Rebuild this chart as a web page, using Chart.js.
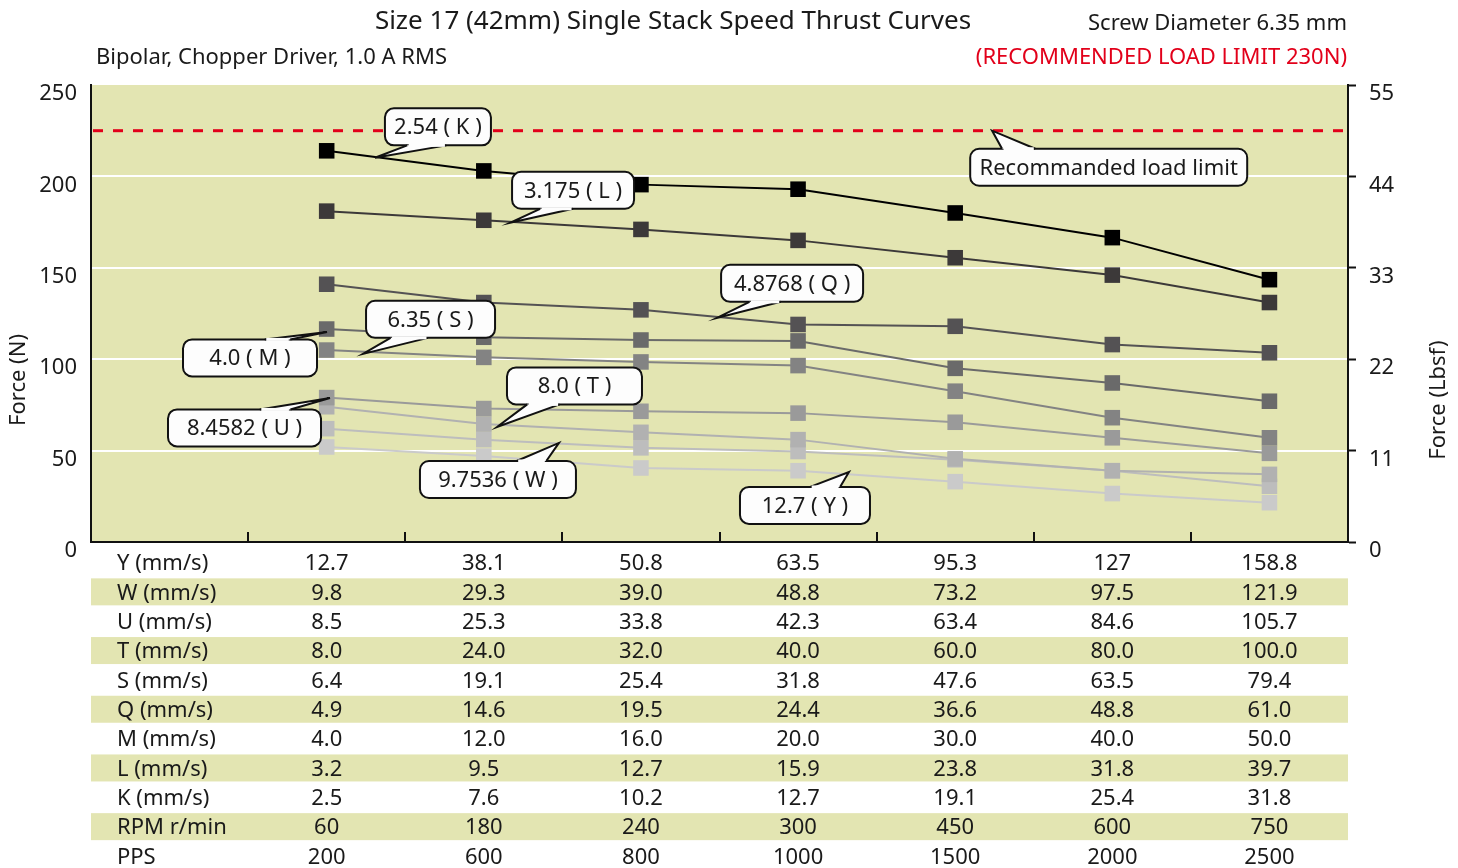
<!DOCTYPE html>
<html>
<head>
<meta charset="utf-8">
<script src="https://cdn.jsdelivr.net/npm/chart.js@4.4.1/dist/chart.umd.min.js"></script>
<style>
  body { margin: 0; background: #fff; }
  canvas { display: block; }
</style>
</head>
<body>
<canvas id="thrustChart" width="1458" height="868"></canvas>
<script>
// speed columns (first slot is the table label column)
const columns = ['', '12.7', '38.1', '50.8', '63.5', '95.3', '127', '158.8'];

// force (N) per lead
const forceK = [214, 203, 195.5, 193, 180, 166.5, 143.5];
const forceL = [181, 176, 171, 165, 155.5, 146, 131];
const forceQ = [141, 131, 127, 119, 118, 108, 103.5];
const forceM = [116.5, 112, 110.5, 110, 95, 87, 77];
const forceS = [105, 101, 98.5, 96.5, 82.5, 68, 57];
const forceU = [79, 73, 71.5, 70.5, 65.5, 57, 48.5];
const forceT = [74, 64.5, 60, 56, 45.5, 39, 37];
const forceW = [62, 56, 51.5, 49.5, 45, 39, 30.5];
const forceY = [52, 47, 40.5, 39, 33, 26.5, 21.5];

const loadLimit = 225;

// table under the chart
const rowLabels = ['Y (mm/s)', 'W (mm/s)', 'U (mm/s)', 'T (mm/s)', 'S (mm/s)', 'Q (mm/s)',
                   'M (mm/s)', 'L (mm/s)', 'K (mm/s)', 'RPM r/min', 'PPS'];
const speedY = ['12.7', '38.1', '50.8', '63.5', '95.3', '127', '158.8'];
const speedW = ['9.8', '29.3', '39.0', '48.8', '73.2', '97.5', '121.9'];
const speedU = ['8.5', '25.3', '33.8', '42.3', '63.4', '84.6', '105.7'];
const speedT = ['8.0', '24.0', '32.0', '40.0', '60.0', '80.0', '100.0'];
const speedS = ['6.4', '19.1', '25.4', '31.8', '47.6', '63.5', '79.4'];
const speedQ = ['4.9', '14.6', '19.5', '24.4', '36.6', '48.8', '61.0'];
const speedM = ['4.0', '12.0', '16.0', '20.0', '30.0', '40.0', '50.0'];
const speedL = ['3.2', '9.5', '12.7', '15.9', '23.8', '31.8', '39.7'];
const speedK = ['2.5', '7.6', '10.2', '12.7', '19.1', '25.4', '31.8'];
const rpm = ['60', '180', '240', '300', '450', '600', '750'];
const pps = ['200', '600', '800', '1000', '1500', '2000', '2500'];
const rowValues = [speedY, speedW, speedU, speedT, speedS, speedQ, speedM, speedL, speedK, rpm, pps];

// callout boxes, placed in data units (x = column index, y = N)
const callouts = [
    { text: '2.54 ( K )', x: 1.708, y: 227.1, w: 106, tipX: 1.307, tipY: 210.2, side: 'bottom', base: [0.21, 0.58] },
    { text: '3.175 ( L )', x: 2.568, y: 192.4, w: 122, tipX: 2.167, tipY: 174.6, side: 'bottom', base: [0.23, 0.5] },
    { text: '4.8768 ( Q )', x: 3.962, y: 141.5, w: 142, tipX: 3.483, tipY: 122.6, side: 'bottom', base: [0.2, 0.42] },
    { text: 'Recommanded load limit', x: 5.977, y: 205, w: 277, tipX: 5.235, tipY: 225, side: 'top', base: [0.115, 0.235] },
    { text: '6.35 ( S )', x: 1.661, y: 121.8, w: 129, tipX: 1.231, tipY: 102.9, side: 'bottom', base: [0.19, 0.48] },
    { text: '4.0 ( M )', x: 0.512, y: 100.7, w: 134, tipX: 1.002, tipY: 114.9, side: 'top', base: [0.61, 0.8] },
    { text: '8.0 ( T )', x: 2.577, y: 85.4, w: 135, tipX: 2.084, tipY: 62.9, side: 'bottom', base: [0.15, 0.39] },
    { text: '8.4582 ( U )', x: 0.477, y: 62.4, w: 153, tipX: 1.021, tipY: 78.8, side: 'top', base: [0.6, 0.8] },
    { text: '9.7536 ( W )', x: 2.09, y: 34.2, w: 156, tipX: 2.478, tipY: 54.2, side: 'top', base: [0.62, 0.81] },
    { text: '12.7 ( Y )', x: 4.044, y: 20, w: 130, tipX: 4.324, tipY: 38.3, side: 'top', base: [0.54, 0.77] }
];

const FONT = '"Noto Sans", "Open Sans", sans-serif';
const PLOT_BG = '#e3e5b2';
const TEXT = '#1a1a1a';

Chart.defaults.font.family = FONT;
Chart.defaults.color = TEXT;

function series(label, values, color) {
    return {
        label: label,
        data: [null].concat(values),
        borderColor: color,
        backgroundColor: color,
        borderWidth: 2,
        pointStyle: 'rect',
        pointRadius: 11,
        pointBorderWidth: 0,
        pointHoverRadius: 11,
        tension: 0
    };
}

const plotBackground = {
    id: 'plotBackground',
    beforeDraw(chart) {
        const { ctx, chartArea } = chart;
        ctx.save();
        ctx.fillStyle = PLOT_BG;
        ctx.fillRect(chartArea.left, chartArea.top, chartArea.right - chartArea.left, chartArea.bottom - chartArea.top);
        ctx.restore();
    },
    beforeDatasetsDraw(chart) {
        const { ctx, chartArea, scales } = chart;
        const y = scales.y.getPixelForValue(loadLimit);
        ctx.save();
        ctx.strokeStyle = '#e2001a';
        ctx.lineWidth = 3;
        ctx.setLineDash([10, 10]);
        ctx.beginPath();
        ctx.moveTo(chartArea.left + 2, y);
        ctx.lineTo(chartArea.right, y);
        ctx.stroke();
        ctx.restore();
    }
};

function roundRect(ctx, x, y, w, h, r) {
    ctx.beginPath();
    ctx.moveTo(x + r, y);
    ctx.arcTo(x + w, y, x + w, y + h, r);
    ctx.arcTo(x + w, y + h, x, y + h, r);
    ctx.arcTo(x, y + h, x, y, r);
    ctx.arcTo(x, y, x + w, y, r);
    ctx.closePath();
}

const calloutPlugin = {
    id: 'callouts',
    afterDatasetsDraw(chart) {
        const { ctx, scales } = chart;
        ctx.save();
        ctx.font = '22px ' + FONT;
        ctx.textAlign = 'center';
        ctx.textBaseline = 'middle';
        callouts.forEach(c => {
            const cx = scales.x.getPixelForValue(c.x);
            const cy = scales.y.getPixelForValue(c.y);
            const h = 37;
            const left = cx - c.w / 2;
            const top = cy - h / 2;
            const edgeY = c.side === 'top' ? top : top + h;
            const b1 = left + c.w * c.base[0];
            const b2 = left + c.w * c.base[1];
            const tx = scales.x.getPixelForValue(c.tipX);
            const ty = scales.y.getPixelForValue(c.tipY);

            ctx.lineWidth = 2;
            ctx.strokeStyle = '#111';
            ctx.fillStyle = '#fdfdfd';
            roundRect(ctx, left, top, c.w, h, 9);
            ctx.fill();
            ctx.stroke();

            // pointer
            ctx.beginPath();
            ctx.moveTo(b1, edgeY);
            ctx.lineTo(tx, ty);
            ctx.lineTo(b2, edgeY);
            ctx.closePath();
            ctx.fill();
            ctx.beginPath();
            ctx.moveTo(b1, edgeY);
            ctx.lineTo(tx, ty);
            ctx.lineTo(b2, edgeY);
            ctx.stroke();
            ctx.fillRect(b1 + 1.5, edgeY - 1.5, b2 - b1 - 3, 3);

            ctx.fillStyle = TEXT;
            ctx.fillText(c.text, cx, cy + 1);
        });
        ctx.restore();
    }
};

const tablePlugin = {
    id: 'speedTable',
    afterDraw(chart) {
        const { ctx, chartArea, scales } = chart;
        const x = scales.x;
        ctx.save();
        // inner ticks on the bottom axis
        ctx.strokeStyle = '#111';
        ctx.lineWidth = 2;
        for (let i = 0; i < columns.length - 1; i++) {
            const px = Math.round(x.getPixelForValue(i + 0.5));
            ctx.beginPath();
            ctx.moveTo(px, chartArea.bottom - 10);
            ctx.lineTo(px, chartArea.bottom);
            ctx.stroke();
        }

        const rowH = 29.35;
        const firstY = chartArea.bottom + 21;
        ctx.font = '22px ' + FONT;
        ctx.textBaseline = 'middle';
        rowLabels.forEach((label, r) => {
            const yc = firstY + r * rowH;
            if (r % 2 === 1) {
                ctx.fillStyle = PLOT_BG;
                ctx.fillRect(chartArea.left, yc - 14, chartArea.right - chartArea.left, 27);
            }
            ctx.fillStyle = TEXT;
            ctx.textAlign = 'left';
            ctx.fillText(label, chartArea.left + 26, yc + 1);
            ctx.textAlign = 'center';
            rowValues[r].forEach((v, i) => {
                ctx.fillText(v, x.getPixelForValue(i + 1), yc + 1);
            });
        });

        // header texts
        ctx.textBaseline = 'middle';
        ctx.font = '26px ' + FONT;
        ctx.textAlign = 'center';
        ctx.fillText('Size 17 (42mm) Single Stack Speed Thrust Curves', 673, 22);
        ctx.font = '22px ' + FONT;
        ctx.textAlign = 'right';
        ctx.fillText('Screw Diameter 6.35 mm', chartArea.right - 1, 24);
        ctx.fillStyle = '#e2001a';
        ctx.fillText('(RECOMMENDED LOAD LIMIT 230N)', chartArea.right - 1, 58);
        ctx.fillStyle = TEXT;
        ctx.textAlign = 'left';
        ctx.fillText('Bipolar, Chopper Driver, 1.0 A RMS', 96, 58);

        // axis titles, both reading bottom to top
        ctx.textAlign = 'center';
        ctx.save();
        ctx.translate(19, 380);
        ctx.rotate(-Math.PI / 2);
        ctx.fillText('Force (N)', 0, 0);
        ctx.restore();
        ctx.translate(1439, 400);
        ctx.rotate(-Math.PI / 2);
        ctx.fillText('Force (Lbsf)', 0, 0);
        ctx.restore();
    }
};

new Chart(document.getElementById('thrustChart'), {
    type: 'line',
    data: {
        labels: columns,
        datasets: [
            series('2.54 (K)', forceK, '#000000'),
            series('3.175 (L)', forceL, '#3c3939'),
            series('4.8768 (Q)', forceQ, '#545254'),
            series('4.0 (M)', forceM, '#6a6a6a'),
            series('6.35 (S)', forceS, '#838383'),
            series('8.4582 (U)', forceU, '#9a9a9a'),
            series('8.0 (T)', forceT, '#b1b1b1'),
            series('9.7536 (W)', forceW, '#bdbdbd'),
            series('12.7 (Y)', forceY, '#cacaca')
        ]
    },
    options: {
        responsive: false,
        animation: false,
        events: [],
        layout: { padding: { top: 85, left: 0, right: 0, bottom: 0 } },
        plugins: {
            legend: { display: false },
            tooltip: { enabled: false },
            title: { display: false }
        },
        scales: {
            x: {
                type: 'category',
                offset: true,
                grid: { display: false },
                ticks: { display: false },
                border: { display: true, color: '#111', width: 2 },
                afterFit: s => { s.height = 868 - 542; }
            },
            y: {
                position: 'left',
                min: 0,
                max: 250,
                ticks: { stepSize: 50, padding: 14, labelOffset: 9, font: { size: 22 }, color: TEXT },
                grid: {
                    color: c => (c.tick.value === 0 || c.tick.value === 250) ? 'rgba(0,0,0,0)' : '#ffffff',
                    lineWidth: 2,
                    drawTicks: false
                },
                border: { color: '#111', width: 2 },
                afterFit: s => { s.width = 91; }
            },
            y1: {
                position: 'right',
                min: 0,
                max: 55,
                ticks: { stepSize: 11, padding: 13, labelOffset: 9, font: { size: 22 }, color: TEXT },
                grid: { drawOnChartArea: false, drawTicks: true, tickLength: 8, tickColor: '#111', tickWidth: 2 },
                border: { color: '#111', width: 2 },
                afterFit: s => { s.width = 110; }
            }
        }
    },
    plugins: [plotBackground, calloutPlugin, tablePlugin]
});
</script>
</body>
</html>
